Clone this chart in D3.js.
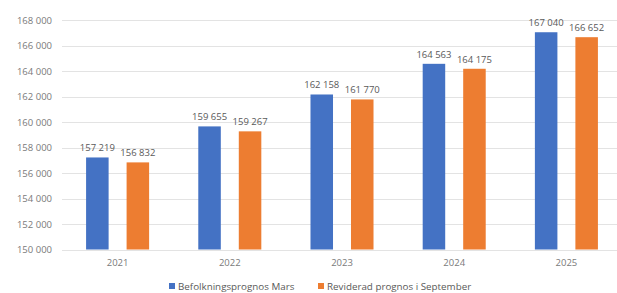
<!DOCTYPE html>
<html><head><meta charset="utf-8">
<script src="https://cdn.jsdelivr.net/npm/d3@7/dist/d3.min.js"></script>
<style>
html,body{margin:0;padding:0;background:#fff;}
svg text{font-family:"Open Sans","Noto Sans",sans-serif;fill:#595959;}
</style></head>
<body>
<svg id="chart" width="617" height="293"></svg>
<script>
const categories = ["2021","2022","2023","2024","2025"];
const seriesNames = ["Befolkningsprognos Mars","Reviderad prognos i September"];
const marsValues = [157219,159655,162158,164563,167040];
const septValues = [156832,159267,161770,164175,166652];
const yTicks = [150000,152000,154000,156000,158000,160000,162000,164000,166000,168000];
const colors = ["#4472C4","#ED7D31"];

const svg = d3.select("#chart");
const fmt = v => d3.format(",")(v).replace(/,/g," ");

const x = d3.scaleBand().domain(categories).range([61.5,622.5]).paddingInner(0).paddingOuter(0);
const y = d3.scaleLinear().domain([150000,168000]).range([249.5,20]);

// gridlines
svg.append("g").selectAll("line").data(yTicks).join("line")
  .attr("x1",62).attr("x2",617)
  .attr("y1",d=>Math.round(y(d))+0.5).attr("y2",d=>Math.round(y(d))+0.5)
  .attr("stroke","#e3e3e3").attr("stroke-width",1);

// y axis labels
const yAxis = d3.axisLeft(y).tickValues(yTicks).tickFormat(fmt).tickSize(0).tickPadding(0);
const ya = svg.append("g").attr("transform","translate(52,0)").call(yAxis);
ya.select(".domain").remove();
ya.selectAll("text").attr("font-size","9.5px").style("fill","#7a7a7a");

// x axis labels
const xAxis = d3.axisBottom(x).tickSize(0).tickPadding(0);
const xa = svg.append("g").attr("transform","translate(0,259)").call(xAxis);
xa.select(".domain").remove();
xa.selectAll("text").attr("font-size","9.5px").style("fill","#7a7a7a");

const inner = d3.scaleBand().domain([0,1]).range([0,x.bandwidth()]).paddingInner(0.444).paddingOuter(0.607);

const series = [marsValues, septValues];
series.forEach((vals,si)=>{
  const g = svg.append("g");
  g.selectAll("rect").data(categories).join("rect")
    .attr("x",(c)=>x(c)+inner(si))
    .attr("width",inner.bandwidth())
    .attr("y",(c,i)=>y(vals[i]))
    .attr("height",(c,i)=>y(150000)-y(vals[i]))
    .attr("fill",colors[si]);
  g.selectAll("text").data(categories).join("text")
    .attr("x",(c)=>x(c)+inner(si)+inner.bandwidth()/2)
    .attr("y",(c,i)=>y(vals[i])-6)
    .attr("text-anchor","middle")
    .attr("font-size","9.5px")
    .text((c,i)=>fmt(vals[i]));
});

// legend
const legendX = [169, 318];
seriesNames.forEach((n,i)=>{
  svg.append("rect").attr("x",legendX[i]).attr("y",283).attr("width",6).attr("height",6).attr("fill",colors[i]);
  svg.append("text").attr("x",legendX[i]+9).attr("y",290).attr("font-size","9.8px").text(n);
});
</script>
</body></html>
